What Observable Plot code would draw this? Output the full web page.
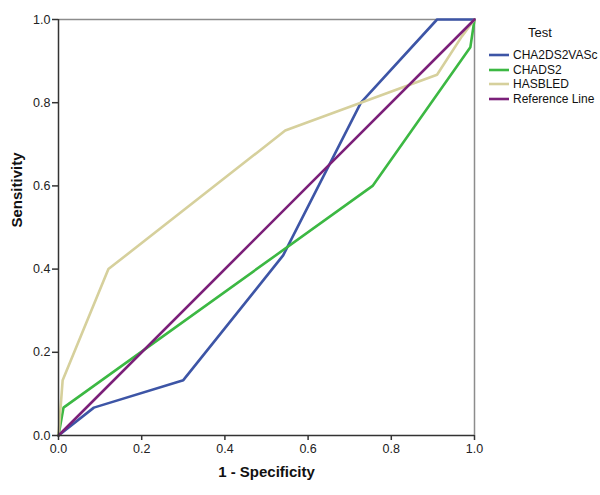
<!DOCTYPE html>
<html>
<head>
<meta charset="utf-8">
<script src="https://cdn.jsdelivr.net/npm/d3@7"></script>
<script src="https://cdn.jsdelivr.net/npm/@observablehq/plot@0.6"></script>
<style>
  html, body { margin: 0; padding: 0; background: #fff; }
  #wrap { position: relative; width: 600px; height: 495px; font-family: "Liberation Sans", Arial, sans-serif; }
  #legend { position: absolute; left: 488px; top: 25px; font-size: 12px; color: #111; }
  #legend .title { font-size: 13px; margin-left: 40px; margin-bottom: 8px; }
  #legend .item { display: flex; align-items: center; height: 14.5px; }
  #legend svg { margin-right: 3px; }
</style>
</head>
<body>
<div id="wrap"></div>
<script>
// ROC curve data (1 - Specificity, Sensitivity)
const seriesNames = ["CHA2DS2VASc", "CHADS2", "HASBLED", "Reference Line"];
const seriesColors = ["#3d55a6", "#3cb843", "#d6d09c", "#7b2079"];

const chaX = [0, 0.085, 0.30, 0.54, 0.727, 0.91, 1.0];
const chaY = [0, 0.067, 0.133, 0.433, 0.80, 1.0, 1.0];

const chadsX = [0, 0.012, 0.755, 0.99, 1.0];
const chadsY = [0, 0.067, 0.60, 0.933, 1.0];

const hasX = [0, 0.01, 0.12, 0.545, 0.91, 0.97, 1.0];
const hasY = [0, 0.133, 0.40, 0.733, 0.867, 0.96, 1.0];

const refX = [0, 1];
const refY = [0, 1];

const tickValues = [0, 0.2, 0.4, 0.6, 0.8, 1.0];

const toRows = (xs, ys, name) => xs.map((x, i) => ({x, y: ys[i], name}));
const rows = [
  ...toRows(chaX, chaY, seriesNames[0]),
  ...toRows(chadsX, chadsY, seriesNames[1]),
  ...toRows(hasX, hasY, seriesNames[2]),
  ...toRows(refX, refY, seriesNames[3])
];

const chart = Plot.plot({
  width: 600,
  height: 495,
  marginLeft: 58,
  marginRight: 126,
  marginTop: 19,
  marginBottom: 60,
  style: {fontFamily: "'Liberation Sans', Arial, sans-serif", fontSize: "12px", color: "#222", background: "#fff"},
  x: {domain: [0, 1]},
  y: {domain: [0, 1]},
  color: {domain: seriesNames, range: seriesColors},
  marks: [
    Plot.ruleY([1], {stroke: "#8c8c8c", strokeWidth: 1.5}),
    Plot.ruleX([1], {stroke: "#8c8c8c", strokeWidth: 1.5}),
    Plot.line(rows, {x: "x", y: "y", z: "name", stroke: "name", strokeWidth: 2.6, strokeLinejoin: "miter"}),
    Plot.ruleX([0], {stroke: "#333", strokeWidth: 1.5}),
    Plot.ruleY([0], {stroke: "#333", strokeWidth: 1.5}),
    Plot.axisX({ticks: tickValues, tickFormat: d3.format(".1f"), tickSize: 5, tickPadding: 4, label: null, stroke: "#333", strokeWidth: 1.5, fontSize: 12.5}),
    Plot.axisY({ticks: tickValues, tickFormat: d3.format(".1f"), tickSize: 6, tickPadding: 2, label: null, stroke: "#333", strokeWidth: 1.5, fontSize: 12.5}),
    Plot.text(["1 - Specificity"], {text: d => d, frameAnchor: "bottom", dy: 41, fontWeight: "bold", fontSize: 15, fill: "#111"}),
    Plot.text(["Sensitivity"], {text: d => d, frameAnchor: "left", dx: -41, rotate: -90, fontWeight: "bold", fontSize: 15, fill: "#111"})
  ]
});

const wrap = document.getElementById("wrap");
wrap.appendChild(chart);

const legend = document.createElement("div");
legend.id = "legend";
legend.innerHTML = `<div class="title">Test</div>` + seriesNames.map((n, i) =>
  `<div class="item"><svg width="22" height="6"><line x1="1" y1="3" x2="21" y2="3" stroke="${seriesColors[i]}" stroke-width="2.6"/></svg><span>${n}</span></div>`
).join("");
wrap.appendChild(legend);
</script>
</body>
</html>
